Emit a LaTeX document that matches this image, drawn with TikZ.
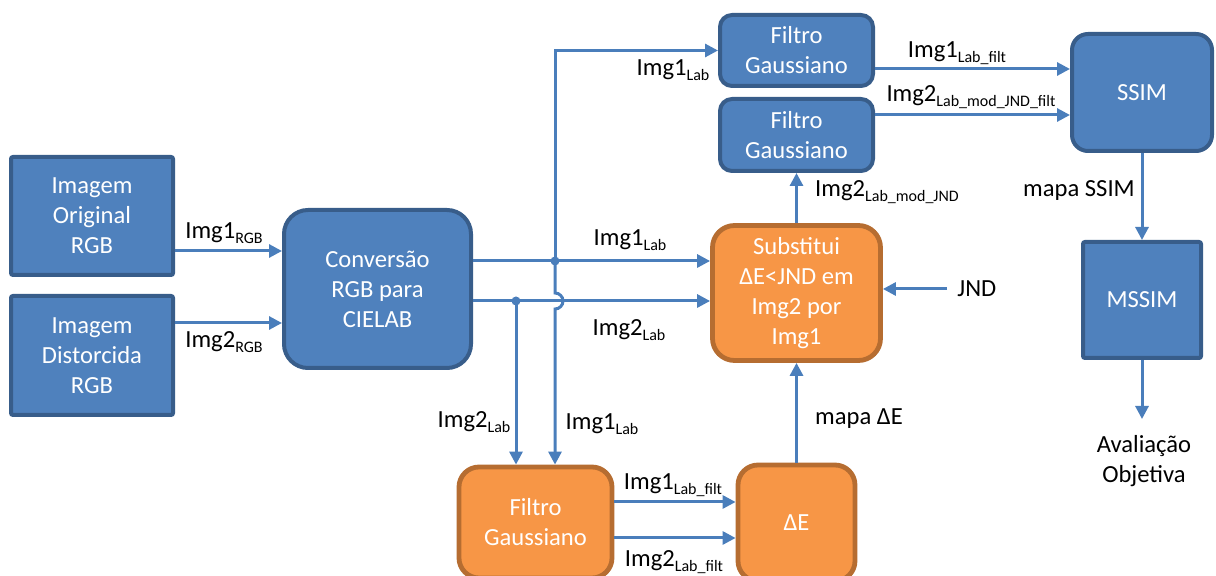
\documentclass[tikz,border=0pt]{standalone}
\usepackage{fontspec}
\setmainfont{Carlito}
\usepackage{tikz}
\usetikzlibrary{arrows.meta, positioning, calc}
\definecolor{boxblue}{HTML}{4F81BD}
\definecolor{boxblueline}{HTML}{385D8A}
\definecolor{boxorange}{HTML}{F79646}
\definecolor{boxorangeline}{HTML}{B66D31}
\definecolor{linkblue}{HTML}{4A7EBB}
\newcommand{\lsub}[1]{\raisebox{-2.3pt}{\fontsize{8}{9}\selectfont #1}}

\begin{document}
\begin{tikzpicture}[
  x=0.5pt, y=-0.5pt,
  every node/.style={font=\fontsize{12.3}{15}\selectfont},
  bluebox/.style={draw=boxblueline, fill=boxblue, line width=2pt, text=white, align=center, inner sep=2pt},
  orangebox/.style={draw=boxorangeline, fill=boxorange, line width=2.4pt, text=white, align=center, inner sep=2pt},
  arrow/.style={-{Triangle[length=6.5pt, width=6.5pt]}, line width=1.5pt, linkblue},
  lbl/.style={anchor=base, inner sep=1pt},
  dot/.style={circle, fill=linkblue, inner sep=0pt, minimum size=4.5pt}
]
\useasboundingbox (0,0) rectangle (1216,576);

% Input images
\node[bluebox, rounded corners=1pt, minimum width=81pt, minimum height=59pt] (orig) at (92,216) {Imagem\\Original\\RGB};
\node[bluebox, rounded corners=1pt, minimum width=81pt, minimum height=59.5pt] (dist) at (92,355.5) {Imagem\\Distorcida\\RGB};

% Conversion
\node[bluebox, rounded corners=12pt, minimum width=93.5pt, minimum height=79pt] (conv) at (377.5,289) {Conversão\\RGB para\\CIELAB};

% JND substitution branch
\node[orangebox, rounded corners=11pt, minimum width=84pt, minimum height=67.5pt] (subst) at (796.5,293) {Substitui\\ΔE<JND em\\Img2 por\\Img1};
\node[orangebox, rounded corners=10pt, minimum width=76.5pt, minimum height=55.5pt] (gaussB) at (535.5,522.5) {Filtro\\Gaussiano};
\node[orangebox, rounded corners=10pt, minimum width=58.5pt, minimum height=58pt] (deltaE) at (796.5,523) {ΔE};
\node[anchor=west, inner xsep=5pt, inner ysep=1pt] (jnd) at (947,289) {JND};

% SSIM branch
\node[bluebox, rounded corners=6pt, minimum width=76.5pt, minimum height=35.5pt] (gaussA) at (796.5,50.5) {Filtro\\Gaussiano};
\node[bluebox, rounded corners=6pt, minimum width=76.5pt, minimum height=36pt] (gaussC) at (796.5,135) {Filtro\\Gaussiano};
\node[bluebox, rounded corners=8pt, minimum width=70pt, minimum height=58.5pt] (ssim) at (1142,92.5) {SSIM};
\node[bluebox, rounded corners=1pt, minimum width=59pt, minimum height=58pt] (mssim) at (1142,300) {MSSIM};
\node[anchor=north, align=center, inner xsep=1pt, inner ysep=8pt] (aval) at (1144,419) {Avaliação\\Objetiva};

% Junctions
\coordinate (j1) at (555,261);
\coordinate (j2) at (516,301);
\coordinate (c1) at ($(conv.west)+(0,-38)$);
\coordinate (c2) at ($(conv.west)+(0,34)$);
\coordinate (g1) at ($(gaussB.east)+(0,-20.5)$);
\coordinate (g2) at ($(gaussB.east)+(0,15.5)$);
\coordinate (s1) at ($(ssim.west)+(0,-23.5)$);
\coordinate (s2) at ($(ssim.west)+(0,22.5)$);

% Connectors
\draw[arrow] (orig.east |- c1) -- (c1);
\draw[arrow] (dist.east |- c2) -- (c2);
\draw[arrow] (conv.east |- j1) -- (subst.west |- j1);
\draw[arrow] (conv.east |- j2) -- (subst.west |- j2);
\draw[arrow] (j1) |- (gaussA.west);
\draw[arrow] (j1) -- ($(j2 -| j1)+(0,-8)$) arc (-90:90:8) -- (gaussB.north -| j1);
\draw[arrow] (j2) -- (gaussB.north -| j2);
\node[dot] (d1) at (j1) {};
\node[dot] (d2) at (j2) {};
\draw[arrow] (g1) -- (deltaE.west |- g1);
\draw[arrow] (g2) -- (deltaE.west |- g2);
\draw[arrow] (deltaE.north) -- (subst.south);
\draw[arrow] (jnd.west) -- (subst.east |- jnd.west);
\draw[arrow] (subst.north) -- (gaussC.south);
\draw[arrow] (gaussA.east |- s1) -- (s1);
\draw[arrow] (gaussC.east |- s2) -- (s2);
\draw[arrow] (ssim.south) -- (mssim.north);
\draw[arrow] (mssim.south) -- (mssim.south |- aval.north);

% Labels
\node[lbl] (l1rgb) at (224,239) {Img1\lsub{RGB}};
\node[lbl] (l2rgb) at (224,348) {Img2\lsub{RGB}};
\node[lbl] (l1lab) at (630,246) {Img1\lsub{Lab}};
\node[lbl] (l2lab) at (629,336) {Img2\lsub{Lab}};
\node[lbl] (l2labv) at (474,428) {Img2\lsub{Lab}};
\node[lbl] (l1labv) at (602,430) {Img1\lsub{Lab}};
\node[lbl] (l1filt) at (673,490) {Img1\lsub{Lab\_filt}};
\node[lbl] (l2filt) at (674,567) {Img2\lsub{Lab\_filt}};
\node[lbl] (lmapde) at (859,425) {mapa ΔE};
\node[lbl] (l1labtop) at (673,76) {Img1\lsub{Lab}};
\node[lbl] (l1filttop) at (957,58) {Img1\lsub{Lab\_filt}};
\node[lbl] (l2jndfilt) at (971,102) {Img2\lsub{Lab\_mod\_JND\_filt}};
\node[lbl] (l2jnd) at (887,197) {Img2\lsub{Lab\_mod\_JND}};
\node[lbl] (lmapssim) at (1079,197) {mapa SSIM};

\end{tikzpicture}
\end{document}
